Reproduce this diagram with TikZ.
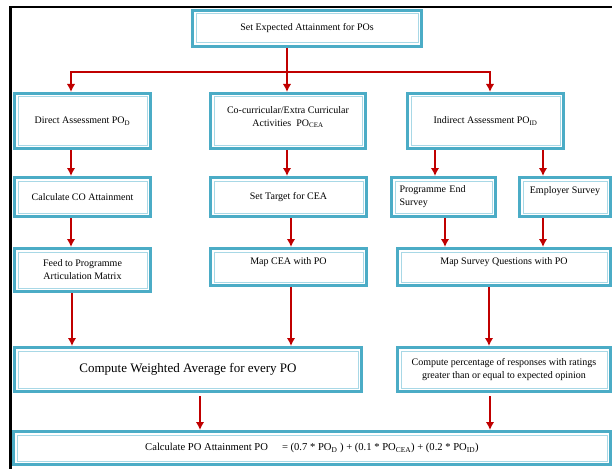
\documentclass[tikz,border=0pt]{standalone}
\usepackage{fontspec}
\setmainfont{Liberation Serif}
\usetikzlibrary{arrows.meta,positioning}

\definecolor{boxteal}{HTML}{4BACC6}
\definecolor{boxlight}{HTML}{A8D8E6}
\definecolor{flowred}{HTML}{C00000}

\tikzset{
  box/.style={draw=boxteal, line width=3pt, fill=white, outer sep=1.5pt, inner sep=1pt,
    align=center, font=\fontsize{10}{13}\selectfont,
    path picture={\draw[boxlight, line width=1pt]
      ([shift={(3.5pt,-3.5pt)}]path picture bounding box.north west) rectangle
      ([shift={(-3.5pt,3.5pt)}]path picture bounding box.south east);}},
  flow/.style={draw=flowred, line width=2pt}
}

\begin{document}
\begin{tikzpicture}[x=1pt,y=-1pt,>={Latex[length=8pt,width=8.5pt]}]
    \fill[white] (0,0) rectangle (612,468);
    \useasboundingbox (0,0) rectangle (612,468);
    \draw[line width=2.2pt] (10.5,480) -- (10.5,7.3) -- (620,7.3);
    \node [box, minimum width=229, minimum height=36] (top) at (307,28.5) {Set Expected Attainment for POs};
    %%%%%%%%%
    \node [box, minimum width=136, minimum height=55] (dir) at (82.5,121) {Direct Assessment PO\textsubscript{D}};
        \node [box, minimum width=136, minimum height=39] (co) at (82.5,197) {Calculate CO Attainment};
        \node [box, minimum width=136, minimum height=43] (feed) at (82.5,270) {Feed to Programme\\Articulation Matrix};
    %%%%%%%%%
    \node [box, minimum width=155, minimum height=55] (cea) at (288,121) {Co-curricular/Extra Curricular\\Activities\ \ PO\textsubscript{CEA}\\[-4pt]~};
        \node [box, minimum width=156, minimum height=39] (target) at (288.5,197) {Set Target for CEA};
        \node [box, minimum width=156, minimum height=37] (mapcea) at (288.5,267) {Map CEA with PO\\[-2pt]~};
    %%%%%%%%%
    \node [box, minimum width=156, minimum height=55] (ind) at (485.5,121) {Indirect Assessment PO\textsubscript{ID}};
        \node [box, minimum width=104, minimum height=39, text width=88, align=left] (pes) at (443.5,197) {Programme End\\Survey};
        \node [box, minimum width=91, minimum height=39] (emp) at (565,197) {Employer Survey\\~};
        \node [box, minimum width=213, minimum height=37] (mapsurvey) at (504,267) {Map Survey Questions with PO\\[-2pt]~};
    %%%%%%%%%%
    \node [box, minimum width=347, minimum height=44, font=\fontsize{13}{15}\selectfont] (wavg) at (188,369.5) {Compute Weighted Average for every PO};
    \node [box, minimum width=213, minimum height=44] (pct) at (504,369.5) {Compute percentage of responses with ratings\\greater than or equal to expected opinion};
    \node [box, minimum width=597, minimum height=33, font=\fontsize{10.6}{13}\selectfont] (att) at (312,448) {Calculate PO Attainment PO\hspace{14pt}= (0.7 * PO\textsubscript{D} ) + (0.1 * PO\textsubscript{CEA}) + (0.2 * PO\textsubscript{ID})};
    %%%%%%%%%%
    \coordinate (split) at (287,72);
            \draw[flow] (split |- top.south) -- (split);
            \draw[flow,->] (split) -| ([xshift=-11.5pt]dir.north);
            \draw[flow,->] (split) -- (split |- cea.north);
            \draw[flow,->] (split) -| ([xshift=4.5pt]ind.north);
            \draw[flow,->] ([xshift=-11.5pt]dir.south) -- ([xshift=-11.5pt]co.north);
            \draw[flow,->] ([xshift=-11.5pt]co.south) -- ([xshift=-11.5pt]feed.north);
            \draw[flow,->] ([xshift=-10.5pt]feed.south) -- ([xshift=-116pt]wavg.north);
            \draw[flow,->] ([xshift=-1pt]cea.south) -- ([xshift=-1.5pt]target.north);
            \draw[flow,->] ([xshift=2.5pt]target.south) -- ([xshift=2.5pt]mapcea.north);
            \draw[flow,->] ([xshift=2.5pt]mapcea.south) -- ([xshift=103pt]wavg.north);
            \draw[flow,->] ([xshift=-50.5pt]ind.south) -- ([xshift=-8.5pt]pes.north);
            \draw[flow,->] ([xshift=57.5pt]ind.south) -- ([xshift=-22pt]emp.north);
            \draw[flow,->] ([xshift=1.5pt]pes.south) -- ([xshift=-59pt]mapsurvey.north);
            \draw[flow,->] ([xshift=-22pt]emp.south) -- ([xshift=39pt]mapsurvey.north);
            \draw[flow,->] ([xshift=-15pt]mapsurvey.south) -- ([xshift=-15pt]pct.north);
            \draw[flow,->,shorten <=3pt] ([xshift=12pt]wavg.south) -- ([xshift=-112pt]att.north);
            \draw[flow,->,shorten <=3pt] ([xshift=-14pt]pct.south) -- ([xshift=178pt]att.north);
\end{tikzpicture}
\end{document}
